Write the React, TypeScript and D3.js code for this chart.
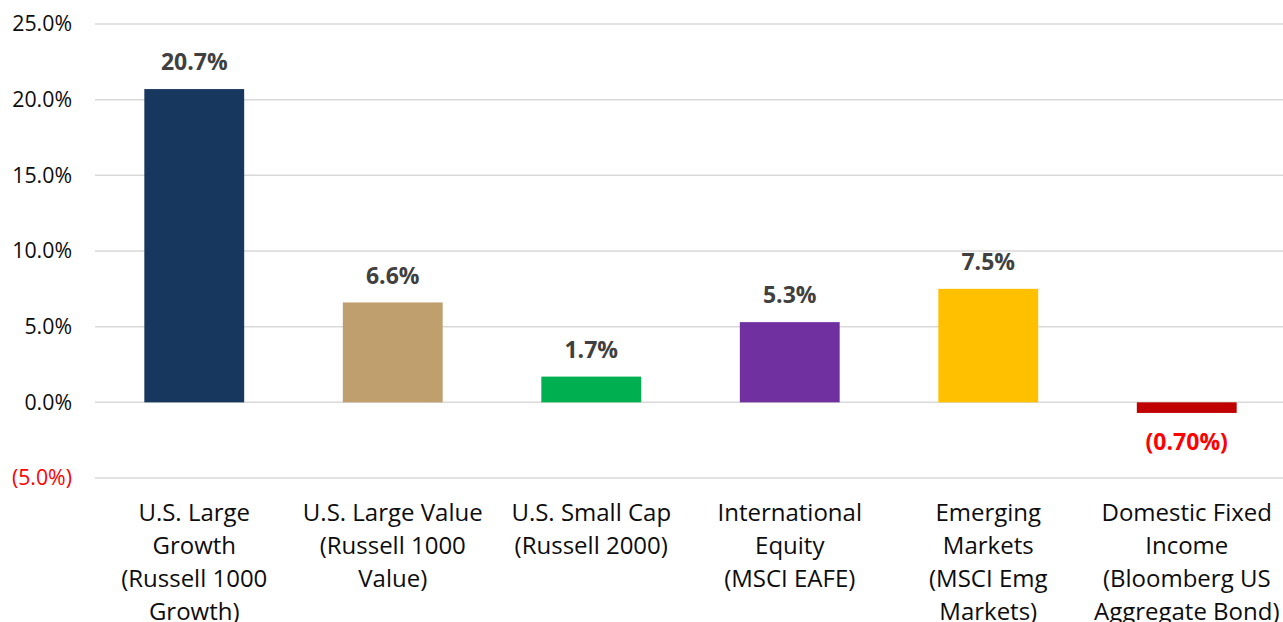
import React, { useEffect, useRef } from 'react';
import * as d3 from 'd3';

// category labels, already broken into lines like the original
const categories = [
  ['U.S. Large', 'Growth', '(Russell 1000', 'Growth)'],
  ['U.S. Large Value', '(Russell 1000', 'Value)'],
  ['U.S. Small Cap', '(Russell 2000)'],
  ['International', 'Equity', '(MSCI EAFE)'],
  ['Emerging', 'Markets', '(MSCI Emg', 'Markets)'],
  ['Domestic Fixed', 'Income', '(Bloomberg US', 'Aggregate Bond)'],
];
const values = [20.7, 6.6, 1.7, 5.3, 7.5, -0.7];
const valueLabels = ['20.7%', '6.6%', '1.7%', '5.3%', '7.5%', '(0.70%)'];
const barColors = ['#17375E', '#BF9F6D', '#00B050', '#7030A0', '#FFC000', '#C00000'];
const yTicks = [-5, 0, 5, 10, 15, 20, 25];

const fmtTick = (v: number) => (v < 0 ? `(${Math.abs(v).toFixed(1)}%)` : `${v.toFixed(1)}%`);

const App = () => {
  const ref = useRef<HTMLDivElement>(null);
  const W = 1283;
  const H = 622;

  useEffect(() => {
    if (!ref.current) return;
    document.body.style.margin = '0';
    const font = '"Open Sans", sans-serif';

    const x = d3.scaleBand<number>()
      .domain(values.map((_, i) => i))
      .range([95, 1286])
      .paddingInner(0.497)
      .paddingOuter(0.2485);

    const y = d3.scaleLinear().domain([-5, 25]).range([478, 24]);

    const svg = d3.select(ref.current)
      .append('svg')
      .attr('width', W)
      .attr('height', H)
      .style('display', 'block')
      .style('font-family', font);

    // gridlines
    svg.append('g')
      .selectAll('line')
      .data(yTicks)
      .enter().append('line')
      .attr('x1', 95)
      .attr('x2', W)
      .attr('y1', d => y(d))
      .attr('y2', d => y(d))
      .attr('stroke', '#D9D9D9')
      .attr('stroke-width', 1.5);

    // y tick labels
    svg.append('g')
      .selectAll('text')
      .data(yTicks)
      .enter().append('text')
      .attr('x', 72)
      .attr('y', d => y(d))
      .attr('dy', '0.35em')
      .attr('text-anchor', 'end')
      .style('font-size', '21.3px')
      .attr('fill', d => (d < 0 ? '#FF0000' : '#0d0d0d'))
      .text(d => fmtTick(d));

    // bars
    svg.append('g')
      .selectAll('rect')
      .data(values)
      .enter().append('rect')
      .attr('x', (_, i) => x(i)!)
      .attr('width', x.bandwidth())
      .attr('y', d => y(Math.max(0, d)))
      .attr('height', d => Math.abs(y(d) - y(0)))
      .attr('fill', (_, i) => barColors[i]);

    // value labels
    svg.append('g')
      .selectAll('text')
      .data(values)
      .enter().append('text')
      .attr('x', (_, i) => x(i)! + x.bandwidth() / 2)
      .attr('y', d => (d >= 0 ? y(d) - 27 : y(d) + 29))
      .attr('dy', '0.35em')
      .attr('text-anchor', 'middle')
      .style('font-size', '23px')
      .style('font-weight', 700)
      .attr('fill', d => (d < 0 ? '#FF0000' : '#404040'))
      .text((_, i) => valueLabels[i]);

    // category labels
    const cat = svg.append('g')
      .selectAll('text')
      .data(categories)
      .enter().append('text')
      .attr('text-anchor', 'middle')
      .style('font-size', '24px')
      .attr('fill', '#0d0d0d');

    cat.selectAll('tspan')
      .data((d, i) => d.map(line => ({ line, i })))
      .enter().append('tspan')
      .attr('x', d => x(d.i)! + x.bandwidth() / 2)
      .attr('y', (_, j) => 513 + j * 33)
      .attr('dy', '0.35em')
      .text(d => d.line);

    return () => {
      if (ref.current) ref.current.innerHTML = '';
    };
  }, []);

  return (
    <div ref={ref} style={{ width: W, height: H, overflow: 'hidden' }}></div>
  );
};

export default App;
